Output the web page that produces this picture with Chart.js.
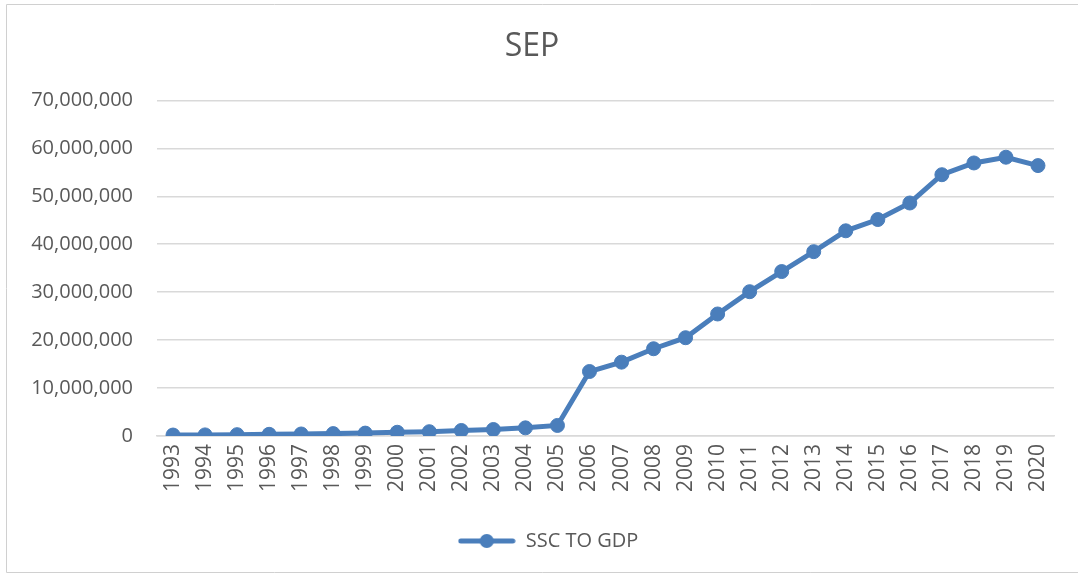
<!DOCTYPE html>
<html>
<head>
<meta charset="utf-8">
<title>SEP</title>
<script src="https://cdn.jsdelivr.net/npm/chart.js@4.4.0/dist/chart.umd.min.js"></script>
<style>
  html, body { margin: 0; padding: 0; background: #fff; }
  #wrap { position: relative; width: 1079px; height: 577px; }
</style>
</head>
<body>
<div id="wrap"><canvas id="sepChart"></canvas></div>
<script>
var years = ['1993', '1994', '1995', '1996', '1997', '1998', '1999', '2000', '2001', '2002',
             '2003', '2004', '2005', '2006', '2007', '2008', '2009', '2010', '2011', '2012',
             '2013', '2014', '2015', '2016', '2017', '2018', '2019', '2020'];
var sscToGdp = [200000, 230000, 280000, 350000, 420000, 500000, 600000, 780000, 900000, 1150000,
                1350000, 1700000, 2200000, 13450000, 15400000, 18200000, 20500000, 25450000, 30100000, 34300000,
                38450000, 42800000, 45150000, 48600000, 54500000, 56950000, 58150000, 56400000];
var yMin = 0, yMax = 70000000, yStep = 10000000;
var seriesName = 'SSC TO GDP';
var chartTitle = 'SEP';

var blue = '#4a7ebb';
var textGrey = '#595959';
var gridGrey = '#d9d9d9';

// legend marker: line with a dot on it, like excel
var marker = document.createElement('canvas');
marker.width = 58; marker.height = 16;
var mctx = marker.getContext('2d');
mctx.strokeStyle = blue; mctx.lineWidth = 5; mctx.lineCap = 'round';
mctx.beginPath(); mctx.moveTo(3, 8); mctx.lineTo(55, 8); mctx.stroke();
mctx.fillStyle = blue;
mctx.beginPath(); mctx.arc(29, 8, 7, 0, Math.PI * 2); mctx.fill();

// thin frame around the chart object
var framePlugin = {
    id: 'frame',
    beforeDraw: function(chart) {
        var c = chart.ctx;
        c.save();
        c.strokeStyle = '#d0d0d0';
        c.lineWidth = 1;
        c.beginPath();
        c.moveTo(6.5, 4.5); c.lineTo(1078, 4.5);
        c.moveTo(6.5, 4.5); c.lineTo(6.5, 572.5);
        c.lineTo(1078, 572.5);
        c.stroke();
        c.restore();
    }
};

// excel centres the legend under the plot, a bit right of the canvas middle
var legendShift = {
    id: 'legendShift',
    afterLayout: function(chart) {
        chart.legend.left += 16;
        chart.legend.right += 16;
    }
};

var ctx = document.getElementById('sepChart').getContext('2d');
var chart = new Chart(ctx, {
    type: 'line',
    data: {
        labels: years,
        datasets: [{
            label: seriesName,
            data: sscToGdp,
            borderColor: blue,
            backgroundColor: blue,
            borderWidth: 5,
            pointRadius: 7,
            pointHoverRadius: 7,
            pointBackgroundColor: blue,
            pointBorderColor: blue,
            pointBorderWidth: 1,
            tension: 0
        }]
    },
    options: {
        responsive: true,
        maintainAspectRatio: false,
        animation: false,
        layout: { padding: { left: 10, right: 25, top: 0, bottom: 16 } },
        plugins: {
            title: {
                display: true,
                text: chartTitle,
                color: textGrey,
                font: { family: 'Open Sans', size: 32, weight: 'normal' },
                padding: { top: 28, bottom: 34 }
            },
            legend: {
                position: 'bottom',
                labels: {
                    usePointStyle: true,
                    pointStyle: marker,
                    pointStyleWidth: 58,
                    color: textGrey,
                    font: { family: 'Open Sans', size: 20 },
                    padding: 10
                }
            },
            tooltip: { enabled: false }
        },
        scales: {
            x: {
                offset: true,
                grid: { display: false, drawTicks: false },
                border: { display: true, color: gridGrey, width: 1.5 },
                ticks: {
                    color: textGrey,
                    font: { family: 'Open Sans', size: 21 },
                    minRotation: 90,
                    maxRotation: 90,
                    autoSkip: false,
                    padding: 8
                },
                afterFit: function(s) { s.height = 85; }
            },
            y: {
                min: yMin,
                max: yMax,
                grid: { color: gridGrey, lineWidth: 1.5, drawTicks: false },
                border: { display: false },
                ticks: {
                    stepSize: yStep,
                    color: textGrey,
                    font: { family: 'Open Sans', size: 20 },
                    padding: 24,
                    callback: function(v) { return v.toLocaleString('en-US'); }
                },
                afterFit: function(s) { s.width = 147; }
            }
        }
    },
    plugins: [framePlugin, legendShift]
});
</script>
</body>
</html>
